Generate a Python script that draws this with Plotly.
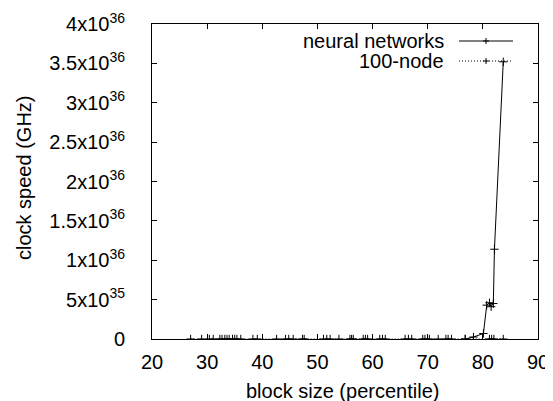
import plotly.graph_objects as go

# Series "neural networks"
nn_x = [76.8, 78.3, 80.1, 80.7, 81.2, 81.5, 81.9, 82.1, 83.7]
nn_y = [0, 0.025e36, 0.07e36, 0.43e36, 0.46e36, 0.41e36, 0.45e36, 1.14e36, 3.52e36]

# Series "100-node"
node_x = [27.0, 29.0, 30.4, 31.1, 32.3, 32.7, 33.2, 33.6, 34.0, 34.6, 35.0, 35.4,
          36.1, 38.3, 39.1, 42.6, 44.2, 44.8, 45.6, 47.3, 47.6, 51.1, 51.7, 52.3,
          53.9, 55.9, 56.2, 56.5, 58.3, 58.7, 59.1, 61.3, 61.8, 62.3, 65.9, 66.5,
          67.1, 69.1, 69.5, 70.3, 71.9, 73.3, 73.7, 74.3, 76.8, 81.2, 81.6, 82.0, 83.7]
node_y = [0] * len(node_x)

series_names = ["neural networks", "100-node"]
x_title = "block size (percentile)"
y_title = "clock speed (GHz)"

x_ticks = [20, 30, 40, 50, 60, 70, 80, 90]
y_tickvals = [0, 0.5e36, 1e36, 1.5e36, 2e36, 2.5e36, 3e36, 3.5e36, 4e36]
y_ticktext = ["0", "5x10<sup>35</sup>", "1x10<sup>36</sup>", "1.5x10<sup>36</sup>",
              "2x10<sup>36</sup>", "2.5x10<sup>36</sup>", "3x10<sup>36</sup>",
              "3.5x10<sup>36</sup>", "4x10<sup>36</sup>"]

# window and plot box in screen pixels
W, H = 553, 401
OFF = 8  # default body margin of the html page
PL, PR, PT, PB = 152, 538, 24, 339
pw, ph = PR - PL, PB - PT

def px2paper(px, py):
    return (px - PL) / pw, (PB - py) / ph

fig = go.Figure()
marker = dict(symbol="cross-thin", size=6, line=dict(color="black", width=1), color="black")
fig.add_trace(go.Scatter(x=node_x, y=node_y, mode="lines+markers", name=series_names[1],
                         line=dict(color="black", width=1, dash="1px,2px"), marker=marker))
fig.add_trace(go.Scatter(x=nn_x, y=nn_y, mode="lines+markers", name=series_names[0],
                         line=dict(color="black", width=1), marker=marker))

font = dict(family="Liberation Sans, Arial, sans-serif", size=20, color="black")

# manual gnuplot-style legend
shapes = []
annotations = []
rows = [(41, "solid", series_names[0]), (61, "1px,2px", series_names[1])]
for py, dash, name in rows:
    x0, y0 = px2paper(459, py)
    x1, _ = px2paper(513, py)
    shapes.append(dict(type="line", xref="paper", yref="paper", x0=x0, x1=x1, y0=y0, y1=y0,
                       line=dict(color="black", width=1, dash=dash)))
    cx, cy = px2paper(486, py)
    dx = 3 / pw
    dy = 3 / ph
    shapes.append(dict(type="line", xref="paper", yref="paper", x0=cx - dx, x1=cx + dx, y0=cy, y1=cy,
                       line=dict(color="black", width=1)))
    shapes.append(dict(type="line", xref="paper", yref="paper", x0=cx, x1=cx, y0=cy - dy, y1=cy + dy,
                       line=dict(color="black", width=1)))
    tx, ty = px2paper(446, py)
    annotations.append(dict(xref="paper", yref="paper", x=tx, y=ty, text=name, showarrow=False,
                            xanchor="right", yanchor="middle", font=font))

# axis titles
ax, ay = px2paper(342, 391)
annotations.append(dict(xref="paper", yref="paper", x=ax, y=ay, text=x_title, showarrow=False,
                        xanchor="center", yanchor="middle", font=font))
bx, by = px2paper(24, 178)
annotations.append(dict(xref="paper", yref="paper", x=bx, y=by, text=y_title, showarrow=False,
                        xanchor="center", yanchor="middle", textangle=-90, font=font))

fig.update_layout(
    template="none",
    width=W - OFF, height=H - OFF,
    margin=dict(l=PL - OFF, r=W - PR, t=PT - OFF, b=H - PB, pad=0),
    paper_bgcolor="white", plot_bgcolor="white",
    showlegend=False,
    font=font,
    shapes=shapes,
    annotations=annotations,
    xaxis=dict(range=[20, 90], tickvals=x_ticks, ticks="inside", ticklen=5, tickcolor="black",
               tickwidth=1, showline=True, linecolor="black", linewidth=1, mirror="ticks",
               showgrid=False, zeroline=False, automargin=False, tickfont=font,
               ticklabelstandoff=5),
    yaxis=dict(range=[0, 4e36], tickvals=y_tickvals, ticktext=y_ticktext, ticks="inside",
               ticklen=5, tickcolor="black", tickwidth=1, showline=True, linecolor="black",
               linewidth=1, mirror="ticks", showgrid=False, zeroline=False, automargin=False,
               tickfont=font, ticklabelstandoff=22),
)

fig.write_html("out.html")
